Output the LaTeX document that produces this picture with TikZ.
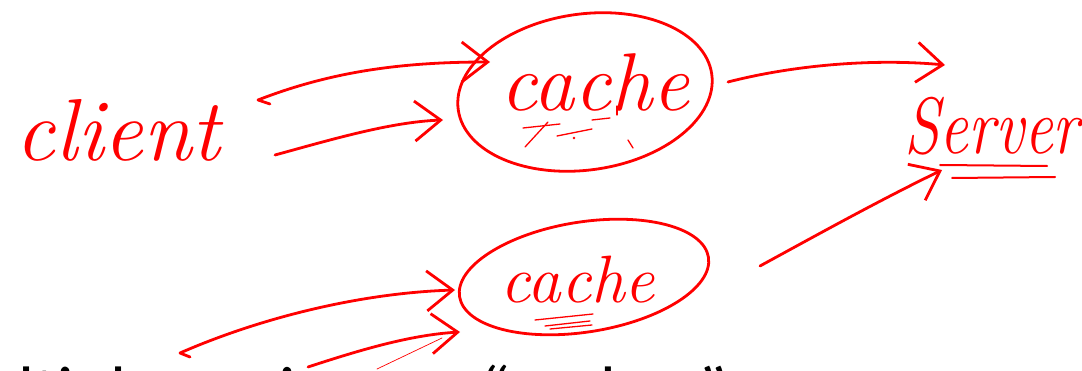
\documentclass[tikz,border=0pt]{standalone}
\usepackage{fontspec}
\newfontfamily\slidefont{Carlito}
\usetikzlibrary{arrows.meta,shapes.geometric}
\begin{document}
\begin{tikzpicture}[x=1pt,y=-1pt,
  ink/.style={draw=red, line width=2.8pt, line cap=round, line join=round},
  fine/.style={draw=red, line width=1.3pt, line cap=round},
  hairline/.style={draw=red, line width=0.7pt, line cap=round},
  barb/.style={-{Straight Barb[length=26pt,width=40pt]}},
  ring/.style={ellipse, draw=red, line width=2.8pt, inner sep=0pt},
  hand/.style={text=red, inner sep=0pt, font=\itshape}
]
\clip (0,0) rectangle (1082,371);
\fill[white] (0,0) rectangle (1082,371);

% handwritten labels
\node[hand, font=\fontsize{88}{88}\selectfont\itshape] (client) at (118,130) {client};
\node[hand, font=\fontsize{82}{82}\selectfont\itshape] (cacheA) at (595,82) {cache};
\node[hand, font=\fontsize{67}{67}\selectfont\itshape] (cacheB) at (578,280) {cache};
\node[hand, xscale=0.8, font=\fontsize{80}{80}\selectfont\itshape] (server) at (992,126) {Server};

% cache rings
\node[ring, rotate=8, minimum width=256pt, minimum height=156pt] (ringA) at (585,92) {};
\node[ring, rotate=9, minimum width=252pt, minimum height=110pt] (ringB) at (584,277) {};

% free ends at the bottom left
\coordinate (srcB1) at (190,357);
\coordinate (srcB2) at (308,367);
\coordinate (srcThin) at (377,369);

% client -> cache (top)
\draw[ink, barb] ([shift={(152,-26)}]client.center) -- ([shift={(140,-30)}]client.center)
  .. controls (330,72) and (400,62) .. ([shift={(-95,-30)}]ringA.center);
\draw[ink, barb] ([shift={(157,25)}]client.center)
  .. controls (330,140) and (390,122) .. ([shift={(-142,28)}]ringA.center);

% cache (top) -> server
\draw[ink, barb] ([shift={(143,-10)}]ringA.center)
  .. controls (790,66) and (870,58) .. ([shift={(-47,-61)}]server.center);

% cache (bottom) -> server
\draw[ink, barb] ([shift={(176,-11)}]ringB.center)
  .. controls (815,236) and (880,200) .. ([shift={(-50,44)}]server.center);

% bottom-left -> cache (bottom)
\draw[ink, barb] (srcB1) -- ([shift={(-10,-4)}]srcB1)
  .. controls (260,318) and (360,293) .. ([shift={(-129,13)}]ringB.center);
\draw[ink, barb] (srcB2)
  .. controls (360,350) and (410,335) .. ([shift={(-124,55)}]ringB.center);
\draw[hairline] (srcThin) -- ([shift={(-142,61)}]ringB.center);

% underlines beside server
\draw[draw=red, line width=2pt, line cap=round] ([shift={(-52,39)}]server.center) -- ([shift={(55,40)}]server.center);
\draw[draw=red, line width=2pt, line cap=round] ([shift={(-40,52)}]server.center) -- ([shift={(63,51)}]server.center);

% scribbles under the top "cache"
\draw[fine] (523,128) -- (560,124);
\draw[fine] (525,147) -- (548,122);
\draw[fine] (557,136) -- (592,129);
\draw[fine] (592,120) -- (610,118);
\draw[fine] (617,106) -- (617,115);
\draw[fine] (628,140) -- (633,148);
\fill[red] (574,138) circle (1.3);

% scribbles under the bottom "cache"
\draw[fine] (535,320) -- (593,314);
\draw[fine] (545,326) -- (590,321);
\draw[fine] (550,329) -- (592,325);

% slide text, mostly below the visible area
\node[anchor=base west, inner sep=0pt, font=\slidefont\fontsize{70}{70}\selectfont] (caption) at (-78,415) {Multiple copies are “caches”};
\end{tikzpicture}
\end{document}
